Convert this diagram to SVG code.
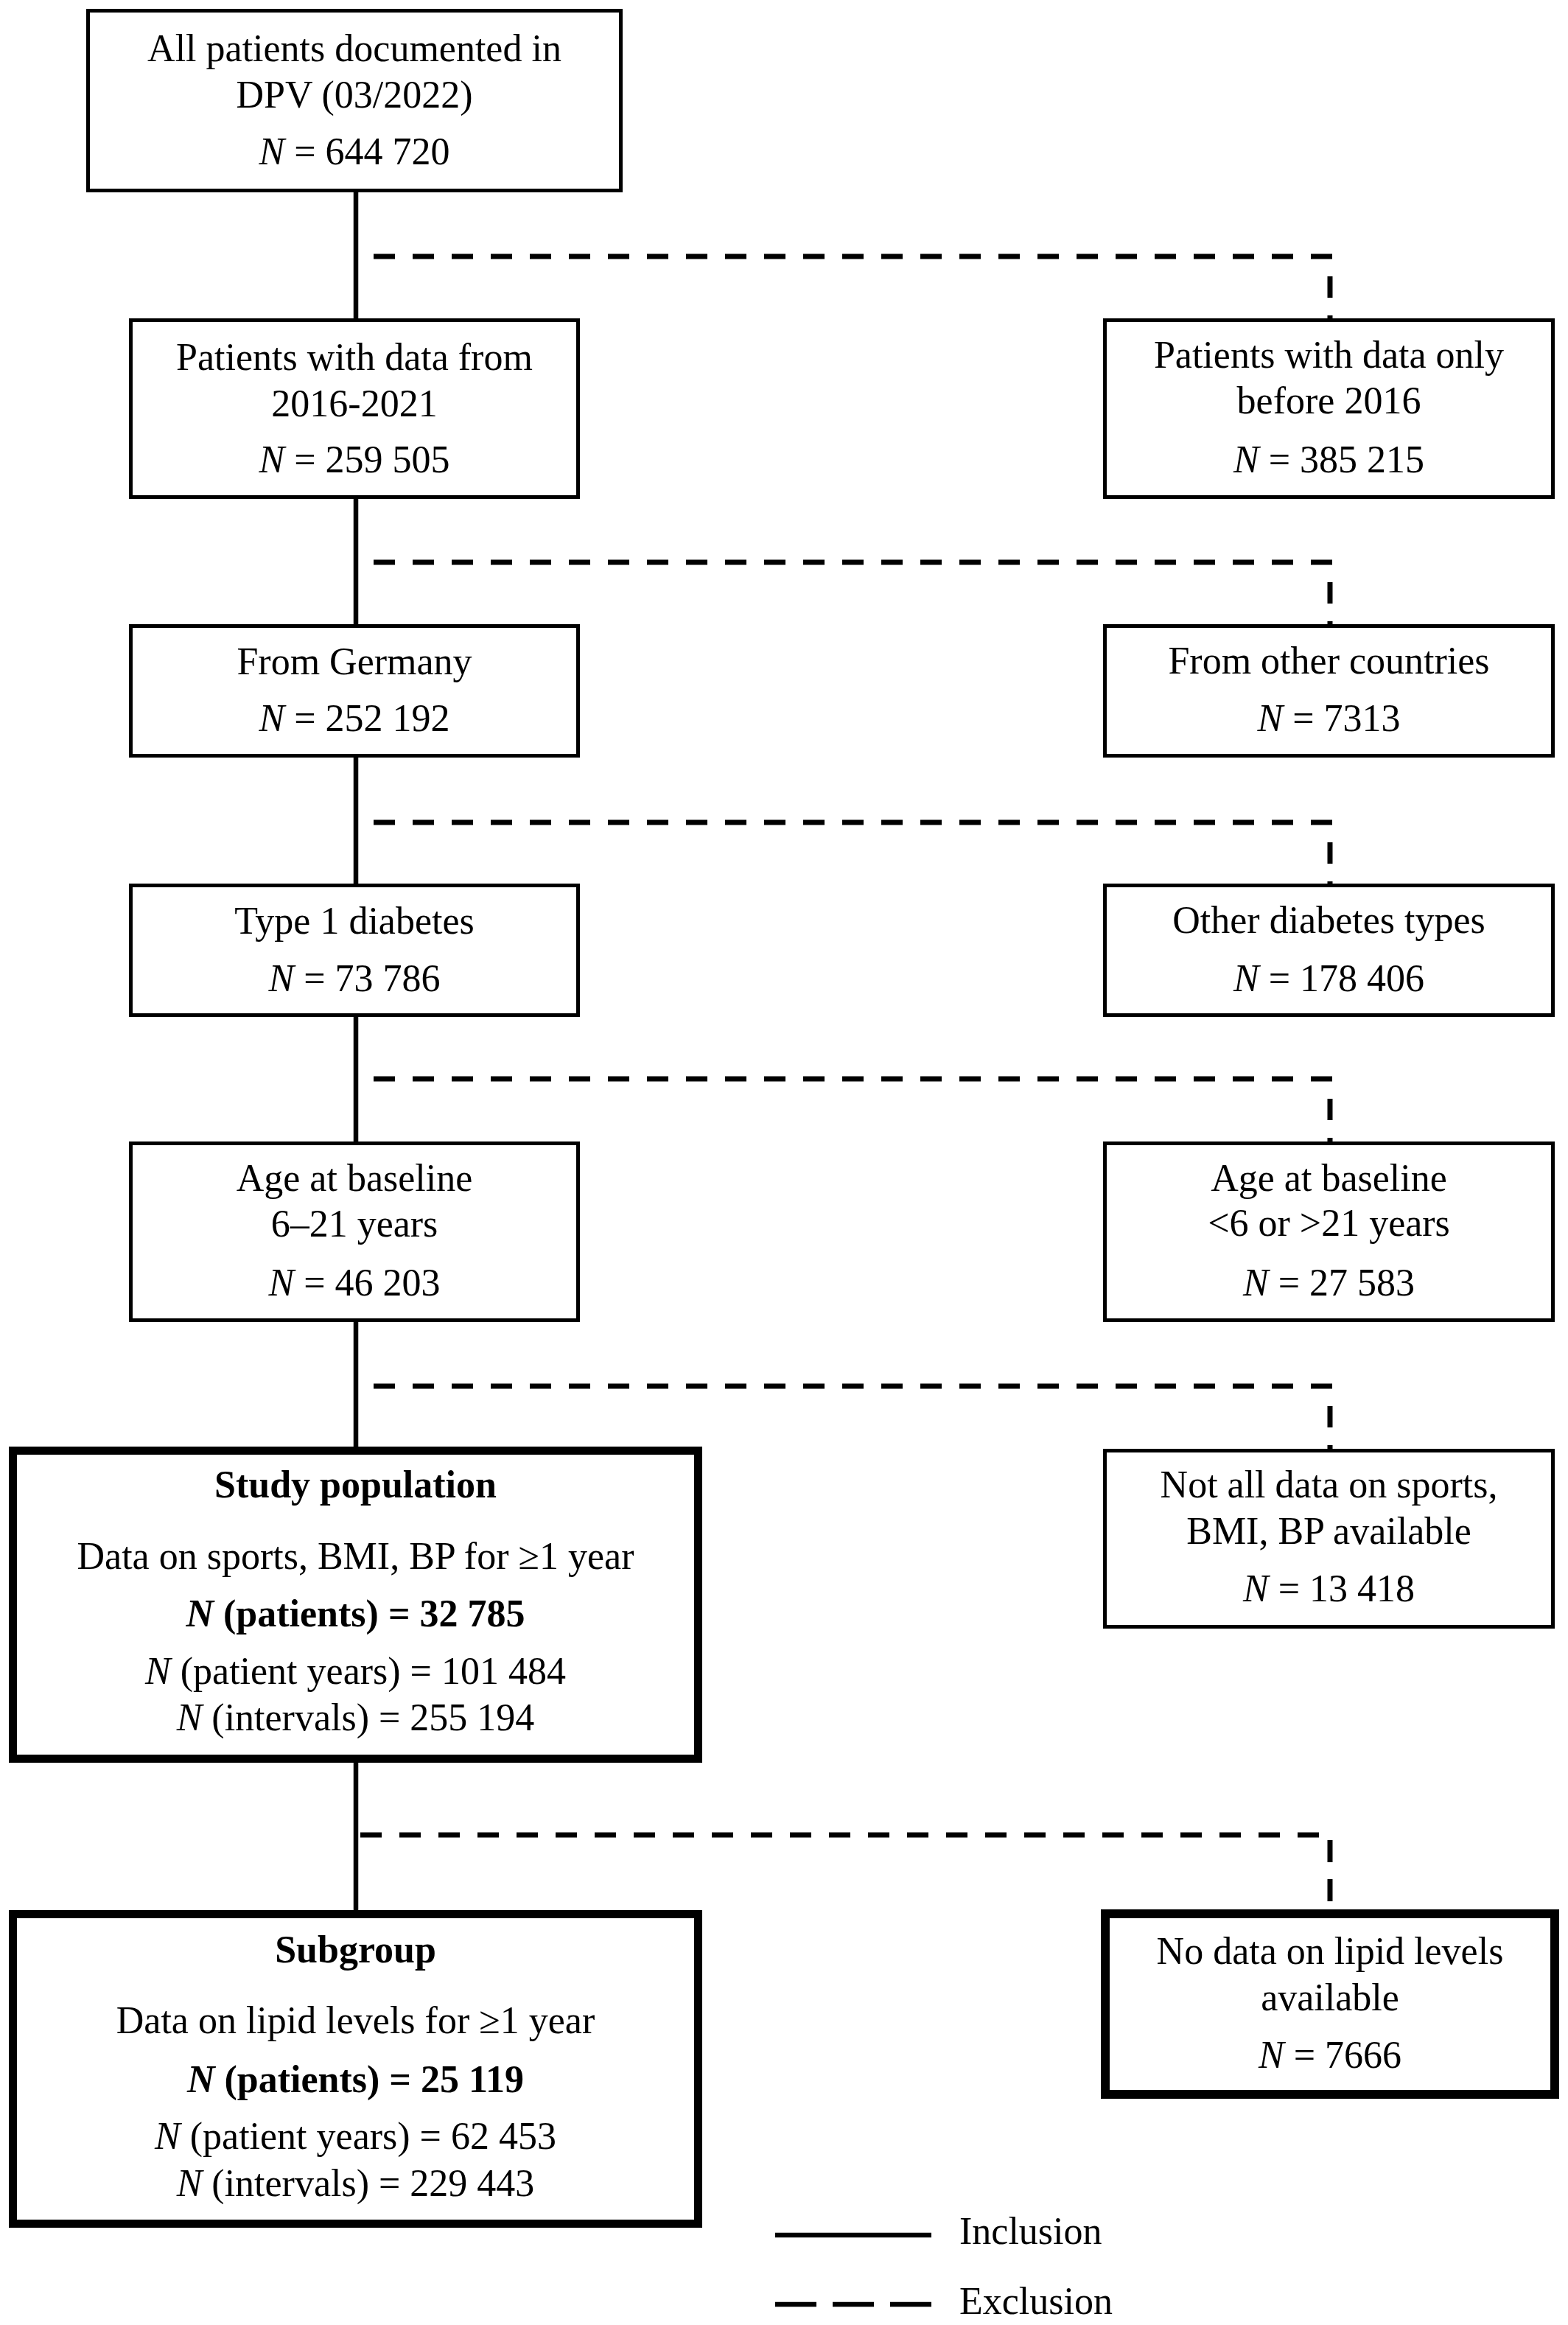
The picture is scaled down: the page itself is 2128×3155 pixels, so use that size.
<svg xmlns="http://www.w3.org/2000/svg" width="2128" height="3155" viewBox="0 0 2128 3155">
<style>
  text { font-family: "Liberation Serif", "Times New Roman", serif; font-size: 52px; fill: #000; text-anchor: middle; }
  .b { font-weight: bold; }
  .i { font-style: italic; }
  .box { fill: #fff; stroke: #000; stroke-width: 5; }
  .thick { fill: #fff; stroke: #000; stroke-width: 11; }
  .solid { stroke: #000; stroke-width: 6.5; fill: none; }
  .dash { stroke: #000; stroke-width: 7; fill: none; stroke-dasharray: 29 24; }
  .lg { text-anchor: start; }
</style>
<rect width="2128" height="3155" fill="#fff"/>
<g id="connectors">
  <line class="solid" x1="483" y1="261" x2="483" y2="432"/>
  <line class="solid" x1="483" y1="677" x2="483" y2="847"/>
  <line class="solid" x1="483" y1="1028" x2="483" y2="1199"/>
  <line class="solid" x1="483" y1="1380" x2="483" y2="1549"/>
  <line class="solid" x1="483" y1="1794" x2="483" y2="1963"/>
  <line class="solid" x1="483" y1="2392" x2="483" y2="2592"/>
  <line class="dash" x1="1808" y1="348" x2="502" y2="348"/>
  <line class="dash" x1="1805" y1="375" x2="1805" y2="432"/>
  <line class="dash" x1="1808" y1="763" x2="502" y2="763"/>
  <line class="dash" x1="1805" y1="790" x2="1805" y2="847"/>
  <line class="dash" x1="1808" y1="1116" x2="502" y2="1116"/>
  <line class="dash" x1="1805" y1="1143" x2="1805" y2="1199"/>
  <line class="dash" x1="1808" y1="1464" x2="502" y2="1464"/>
  <line class="dash" x1="1805" y1="1491" x2="1805" y2="1549"/>
  <line class="dash" x1="1808" y1="1881" x2="502" y2="1881"/>
  <line class="dash" x1="1805" y1="1908" x2="1805" y2="1966"/>
  <line class="dash" x1="1790" y1="2490" x2="489" y2="2490"/>
  <line class="dash" x1="1805" y1="2497" x2="1805" y2="2580" style="stroke-dasharray: 30 23"/>
</g>
<g id="n1">
  <rect class="box" x="119.5" y="14.5" width="723" height="244"/>
  <text x="481" y="83">All patients documented in</text>
  <text x="481" y="146">DPV (03/2022)</text>
  <text x="481" y="223"><tspan class="i">N</tspan> = 644 720</text>
</g>
<g id="n2">
  <rect class="box" x="177.5" y="434.5" width="607" height="240"/>
  <text x="481" y="502">Patients with data from</text>
  <text x="481" y="565">2016-2021</text>
  <text x="481" y="641"><tspan class="i">N</tspan> = 259 505</text>
</g>
<g id="x2">
  <rect class="box" x="1499.5" y="434.5" width="608" height="240"/>
  <text x="1803.5" y="499">Patients with data only</text>
  <text x="1803.5" y="561">before 2016</text>
  <text x="1803.5" y="641"><tspan class="i">N</tspan> = 385 215</text>
</g>
<g id="n3">
  <rect class="box" x="177.5" y="849.5" width="607" height="176"/>
  <text x="481" y="915">From Germany</text>
  <text x="481" y="992"><tspan class="i">N</tspan> = 252 192</text>
</g>
<g id="x3">
  <rect class="box" x="1499.5" y="849.5" width="608" height="176"/>
  <text x="1803.5" y="914">From other countries</text>
  <text x="1803.5" y="992"><tspan class="i">N</tspan> = 7313</text>
</g>
<g id="n4">
  <rect class="box" x="177.5" y="1201.5" width="607" height="176"/>
  <text x="481" y="1267">Type 1 diabetes</text>
  <text x="481" y="1345"><tspan class="i">N</tspan> = 73 786</text>
</g>
<g id="x4">
  <rect class="box" x="1499.5" y="1201.5" width="608" height="176"/>
  <text x="1803.5" y="1266">Other diabetes types</text>
  <text x="1803.5" y="1345"><tspan class="i">N</tspan> = 178 406</text>
</g>
<g id="n5">
  <rect class="box" x="177.5" y="1551.5" width="607" height="240"/>
  <text x="481" y="1616">Age at baseline</text>
  <text x="481" y="1678">6–21 years</text>
  <text x="481" y="1758"><tspan class="i">N</tspan> = 46 203</text>
</g>
<g id="x5">
  <rect class="box" x="1499.5" y="1551.5" width="608" height="240"/>
  <text x="1803.5" y="1616">Age at baseline</text>
  <text x="1803.5" y="1677">&lt;6 or &gt;21 years</text>
  <text x="1803.5" y="1758"><tspan class="i">N</tspan> = 27 583</text>
</g>
<g id="study">
  <rect class="thick" x="17.5" y="1968.5" width="930" height="418"/>
  <text x="482.5" y="2032" class="b">Study population</text>
  <text x="482.5" y="2129">Data on sports, BMI, BP for ≥1 year</text>
  <text x="482.5" y="2207" class="b"><tspan class="i">N</tspan> (patients) = 32 785</text>
  <text x="482.5" y="2285"><tspan class="i">N</tspan> (patient years) = 101 484</text>
  <text x="482.5" y="2348"><tspan class="i">N</tspan> (intervals) = 255 194</text>
</g>
<g id="x6">
  <rect class="box" x="1499.5" y="1968.5" width="608" height="239"/>
  <text x="1803.5" y="2032">Not all data on sports,</text>
  <text x="1803.5" y="2095">BMI, BP available</text>
  <text x="1803.5" y="2173"><tspan class="i">N</tspan> = 13 418</text>
</g>
<g id="subgroup">
  <rect class="thick" x="17.5" y="2597.5" width="930" height="420"/>
  <text x="482.5" y="2663" class="b">Subgroup</text>
  <text x="482.5" y="2759">Data on lipid levels for ≥1 year</text>
  <text x="482.5" y="2839" class="b"><tspan class="i">N</tspan> (patients) = 25 119</text>
  <text x="482.5" y="2916"><tspan class="i">N</tspan> (patient years) = 62 453</text>
  <text x="482.5" y="2980"><tspan class="i">N</tspan> (intervals) = 229 443</text>
</g>
<g id="x7">
  <rect class="box" x="1500" y="2597" width="610" height="245" style="stroke-width:12"/>
  <text x="1805" y="2665">No data on lipid levels</text>
  <text x="1805" y="2728">available</text>
  <text x="1805" y="2806"><tspan class="i">N</tspan> = 7666</text>
</g>
<g id="legend">
  <line class="solid" x1="1052" y1="3033" x2="1264" y2="3033"/>
  <text class="lg" x="1302" y="3045">Inclusion</text>
  <line class="solid" x1="1052" y1="3127" x2="1264" y2="3127" style="stroke-dasharray: 56 22"/>
  <text class="lg" x="1302" y="3140">Exclusion</text>
</g>
</svg>
